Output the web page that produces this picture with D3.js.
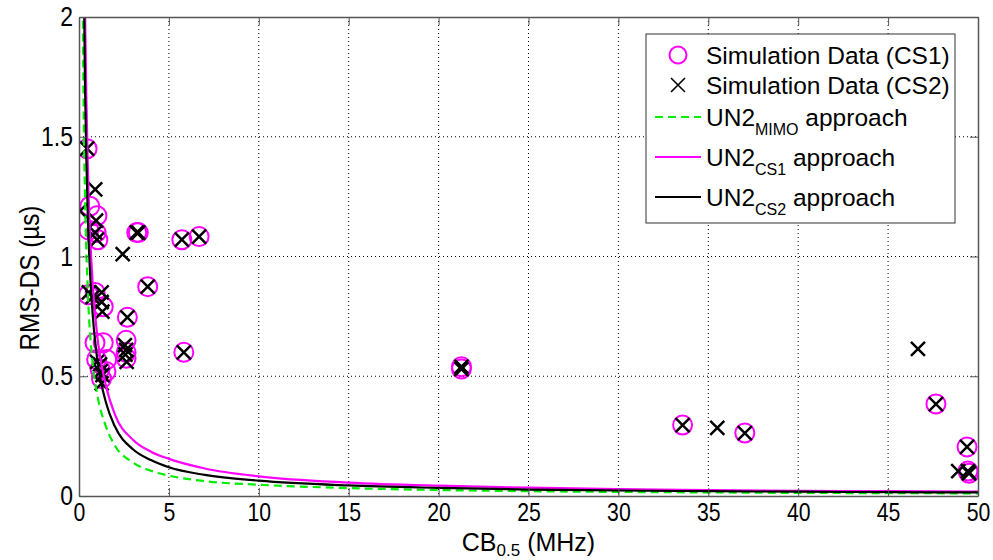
<!DOCTYPE html>
<html><head><meta charset="utf-8">
<script src="https://cdn.jsdelivr.net/npm/d3@7"></script>
<style>
body{margin:0;background:#fff}
text{font-family:"Liberation Sans",Arial,Helvetica,sans-serif;fill:#000}
</style>
</head><body>
<svg id="chart" width="993" height="560"></svg>
<script>
// ---- data ----
const cs1X = [0.45,0.6,1.0,0.55,0.95,1.05,0.52,0.9,1.35,0.89,1.35,0.98,1.54,1.17,1.5,1.25,3.21,3.3,3.82,2.69,2.62,2.62,2.62,5.72,6.68,5.83,21.27,21.27,33.57,37.03,47.66,49.39,49.44,49.5];
const cs1Y = [1.45,1.21,1.17,1.11,1.1,1.07,0.84,0.85,0.79,0.64,0.64,0.57,0.57,0.53,0.52,0.49,1.10,1.10,0.874,0.746,0.65,0.60,0.575,1.07,1.083,0.60,0.54,0.53,0.296,0.263,0.384,0.205,0.104,0.095];
const cs2X = [0.45,0.9,0.05,0.95,0.9,1.0,0.55,0.75,1.26,1.26,1.3,1.0,1.17,1.2,1.3,1.26,2.43,3.21,3.3,3.82,2.69,2.55,2.62,2.58,2.65,5.72,6.68,5.83,21.27,21.27,33.57,35.5,37.03,46.66,47.66,49.39,48.9,49.44,49.5];
const cs2Y = [1.45,1.28,1.19,1.15,1.1,1.07,0.85,0.83,0.85,0.81,0.77,0.56,0.55,0.52,0.505,0.47,1.01,1.10,1.10,0.874,0.746,0.63,0.61,0.59,0.56,1.07,1.083,0.60,0.54,0.53,0.296,0.284,0.263,0.614,0.384,0.205,0.104,0.104,0.095];
const curveX  = [0.15,0.25,0.35,0.5,0.75,1,1.5,2,3,4,5,7,10,15,20,25,30,35,40,45,50];
const un2Mimo = [2.8,1.68,1.2,0.84,0.56,0.43,0.29,0.21,0.14,0.105,0.085,0.062,0.047,0.033,0.025,0.02,0.017,0.015,0.013,0.012,0.011];
const un2Cs1  = [4.6,2.75,1.95,1.35,0.9,0.68,0.46,0.34,0.235,0.185,0.155,0.115,0.082,0.056,0.043,0.035,0.029,0.025,0.022,0.020,0.018];
const un2Cs2  = [3.9,2.3,1.65,1.15,0.77,0.58,0.39,0.29,0.195,0.15,0.12,0.088,0.064,0.044,0.034,0.027,0.023,0.020,0.018,0.016,0.015];
const xTicks = [0,5,10,15,20,25,30,35,40,45,50];
const yTicks = [0,0.5,1,1.5,2];

// ---- layout ----
const W = 993, H = 560;
const m = {left:79, right:15, top:17, bottom:64};
const pw = W - m.left - m.right, ph = H - m.top - m.bottom;
const svg = d3.select("#chart");
const g = svg.append("g").attr("transform",`translate(${m.left},${m.top})`);
const x = d3.scaleLinear().domain([0,50]).range([0,pw]);
const y = d3.scaleLinear().domain([0,2]).range([ph,0]);

// condense a text horizontally (reference glyphs are tall and narrow)
function condense(sel, k){
  sel.each(function(){
    const L = this.getComputedTextLength();
    d3.select(this).attr("textLength", L*k).attr("lengthAdjust","spacingAndGlyphs");
  });
}

svg.append("defs").append("clipPath").attr("id","clip")
  .append("rect").attr("width",pw).attr("height",ph);

g.append("rect").attr("width",pw).attr("height",ph).attr("fill","#fff");

// grid
const grid = g.append("g");
grid.selectAll(".gx").data(xTicks.slice(1,-1)).join("line")
  .attr("x1",d=>x(d)).attr("x2",d=>x(d)).attr("y1",0).attr("y2",ph)
  .attr("stroke","#000").attr("stroke-width",1).attr("stroke-dasharray","1,3");
grid.selectAll(".gy").data(yTicks.slice(1,-1)).join("line")
  .attr("y1",d=>y(d)).attr("y2",d=>y(d)).attr("x1",0).attr("x2",pw)
  .attr("stroke","#000").attr("stroke-width",1).attr("stroke-dasharray","1,3");

const plot = g.append("g").attr("clip-path","url(#clip)");

// circles (CS1)
const cs1 = cs1X.map((v,i)=>[v,cs1Y[i]]);
plot.selectAll("circle.cs1").data(cs1).join("circle")
  .attr("cx",d=>x(d[0])).attr("cy",d=>y(d[1])).attr("r",9.5)
  .attr("fill","none").attr("stroke","#ff00ff").attr("stroke-width",2);

// crosses (CS2)
const cs2 = cs2X.map((v,i)=>[v,cs2Y[i]]);
const s = 7;
plot.selectAll("path.cs2").data(cs2).join("path")
  .attr("d",d=>{const cx=x(d[0]), cy=y(d[1]);
    return `M${cx-s},${cy-s}L${cx+s},${cy+s}M${cx-s},${cy+s}L${cx+s},${cy-s}`;})
  .attr("stroke","#000").attr("stroke-width",2.5).attr("fill","none");

// curves
const line = ys => d3.line().x((d,i)=>x(curveX[i])).y(d=>y(d)).curve(d3.curveMonotoneX)(ys);
plot.append("path").attr("d",line(un2Mimo)).attr("fill","none")
  .attr("stroke","#00ee00").attr("stroke-width",2.2).attr("stroke-dasharray","8,5");
plot.append("path").attr("d",line(un2Cs1)).attr("fill","none")
  .attr("stroke","#ff00ff").attr("stroke-width",2.2);
plot.append("path").attr("d",line(un2Cs2)).attr("fill","none")
  .attr("stroke","#000").attr("stroke-width",2.2);

// axes
const axCol = "#555";
const xa = g.append("g").attr("transform",`translate(0,${ph})`)
  .call(d3.axisBottom(x).tickValues(xTicks).tickFormat(d3.format("d")).tickSizeInner(-8).tickSizeOuter(0).tickPadding(7));
const xt = g.append("g").call(d3.axisTop(x).tickValues(xTicks).tickFormat("").tickSizeInner(-8).tickSizeOuter(0));
const ya = g.append("g")
  .call(d3.axisLeft(y).tickValues(yTicks).tickFormat(d=>String(d)).tickSizeInner(-8).tickSizeOuter(0).tickPadding(6));
const yr = g.append("g").attr("transform",`translate(${pw},0)`)
  .call(d3.axisRight(y).tickValues(yTicks).tickFormat("").tickSizeInner(-8).tickSizeOuter(0));
[xa,xt,ya,yr].forEach(a=>{
  a.select(".domain").attr("stroke",axCol).attr("stroke-width",1.5);
  a.selectAll(".tick line").attr("stroke",axCol).attr("stroke-width",1);
  a.selectAll("text").attr("font-size",27).attr("font-family",null);
});
xa.selectAll("text").attr("font-size",25);
condense(xa.selectAll("text"),0.85);
condense(ya.selectAll("text"),0.85);

// axis titles
const xl = svg.append("text").attr("x",m.left+pw/2).attr("y",551).attr("text-anchor","middle").attr("font-size",25);
xl.append("tspan").text("CB");
xl.append("tspan").attr("font-size",17).attr("dy",5).text("0.5");
xl.append("tspan").attr("dy",-5).text(" (MHz)");
const yl = svg.append("text").attr("transform","translate(39,278) rotate(-90)")
  .attr("text-anchor","middle").attr("font-size",27).text("RMS-DS (\u00b5s)");
condense(yl,0.9);

// legend
const lg = svg.append("g");
lg.append("rect").attr("x",646).attr("y",34).attr("width",309).attr("height",189)
  .attr("fill","#fff").attr("stroke","#333").attr("stroke-width",1);
const rows = [
  {t:"Simulation Data (CS1)", y:55, k:"o"},
  {t:"Simulation Data (CS2)", y:85, k:"x"},
  {t:"UN2", sub:"MIMO", y:117, k:"g"},
  {t:"UN2", sub:"CS1", y:157, k:"m"},
  {t:"UN2", sub:"CS2", y:197, k:"b"}
];
rows.forEach(r=>{
  if(r.k==="o") lg.append("circle").attr("cx",678).attr("cy",r.y).attr("r",8.5).attr("fill","none").attr("stroke","#ff00ff").attr("stroke-width",2);
  else if(r.k==="x") lg.append("path").attr("d",`M${678-7},${r.y-7}L${678+7},${r.y+7}M${678-7},${r.y+7}L${678+7},${r.y-7}`).attr("stroke","#000").attr("stroke-width",1.6);
  else {
    const col = r.k==="g"?"#00ee00":r.k==="m"?"#ff00ff":"#000";
    lg.append("line").attr("x1",655).attr("x2",701).attr("y1",r.y).attr("y2",r.y)
      .attr("stroke",col).attr("stroke-width",2).attr("stroke-dasharray",r.k==="g"?"8,5":null);
  }
  const t = lg.append("text").attr("x",706).attr("y",r.y+9).attr("font-size",24.5);
  t.append("tspan").text(r.t);
  if(r.sub){
    t.append("tspan").attr("font-size",16).attr("dy",9).text(r.sub);
    t.append("tspan").attr("dy",-9).text(" approach");
  }
});
</script>
</body></html>
